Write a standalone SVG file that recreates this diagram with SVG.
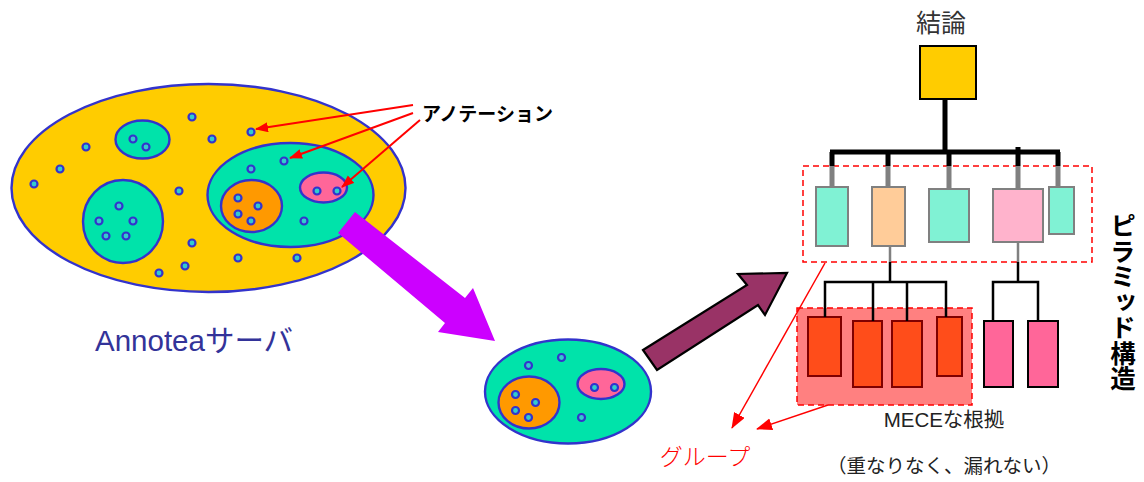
<svg xmlns="http://www.w3.org/2000/svg" width="1144" height="482" viewBox="0 0 1144 482">
<style>
.ol{stroke:#3333CC;stroke-width:2.4}
.yel{fill:#FFCC00}
.grn{fill:#00E3AA}
.org{fill:#FF9900}
.pnk{fill:#FF6699}
.dot{fill:#33CCCC;stroke:#3333CC;stroke-width:2.2}
.jp{font-family:"Noto Sans CJK JP","Liberation Sans",sans-serif}
.box{stroke:#808080;stroke-width:2}
.rbox{fill:#FF4D1A;stroke:#800000;stroke-width:2}
.pbox{fill:#FF6699;stroke:#000;stroke-width:2}
.thick{stroke:#000;stroke-width:5;fill:none}
.grey{stroke:#808080;stroke-width:5;fill:none}
.thin{stroke:#000;stroke-width:2.5;fill:none}
.thing{stroke:#808080;stroke-width:2.5;fill:none}
.ra{stroke:#FF0000;stroke-width:2;fill:none;marker-end:url(#ah)}
.rb{stroke:#FF0000;stroke-width:1.5;fill:none;marker-end:url(#ah2)}
</style>
<defs>
<marker id="ah" markerUnits="userSpaceOnUse" markerWidth="14" markerHeight="12" refX="12" refY="5" orient="auto">
<path d="M0,0 L13,5 L0,10 Z" fill="#FF0000"/>
</marker>
<marker id="ah2" markerUnits="userSpaceOnUse" markerWidth="16" markerHeight="14" refX="15" refY="6" orient="auto">
<path d="M0,0 L16,6 L0,12 Z" fill="#FF0000"/>
</marker>
<g id="group">
<ellipse cx="290.5" cy="195" rx="83" ry="52" class="grn ol"/>
<ellipse cx="251.5" cy="206" rx="30.5" ry="26" class="org ol"/>
<ellipse cx="323.5" cy="187.5" rx="23.5" ry="15" class="pnk ol"/>
<circle cx="251" cy="169" r="3.5" class="dot"/>
<circle cx="284" cy="161" r="3.5" class="dot"/>
<circle cx="304" cy="221" r="3.5" class="dot"/>
<circle cx="238" cy="198" r="3.5" class="dot"/>
<circle cx="258" cy="206" r="3.5" class="dot"/>
<circle cx="238" cy="214" r="3.5" class="dot"/>
<circle cx="251" cy="221" r="3.5" class="dot"/>
<circle cx="317" cy="191" r="3.5" class="dot"/>
<circle cx="337" cy="191" r="3.5" class="dot"/>
</g>
</defs>

<g id="annotea-server">
<ellipse cx="208.5" cy="188" rx="197" ry="104" class="yel ol"/>
<ellipse cx="142.5" cy="139.5" rx="27" ry="19" class="grn ol"/>
<circle cx="133" cy="139" r="3.5" class="dot"/>
<circle cx="146" cy="147" r="3.5" class="dot"/>
<ellipse cx="123" cy="221.5" rx="40" ry="41.5" class="grn ol"/>
<circle cx="119" cy="206" r="3.5" class="dot"/>
<circle cx="99" cy="221" r="3.5" class="dot"/>
<circle cx="133" cy="221" r="3.5" class="dot"/>
<circle cx="106" cy="236" r="3.5" class="dot"/>
<circle cx="126" cy="236" r="3.5" class="dot"/>
<circle cx="192" cy="117" r="3.5" class="dot"/>
<circle cx="212" cy="139" r="3.5" class="dot"/>
<circle cx="251" cy="132" r="3.5" class="dot"/>
<circle cx="86" cy="147" r="3.5" class="dot"/>
<circle cx="60" cy="169" r="3.5" class="dot"/>
<circle cx="34" cy="184" r="3.5" class="dot"/>
<circle cx="179" cy="191" r="3.5" class="dot"/>
<circle cx="192" cy="243" r="3.5" class="dot"/>
<circle cx="185" cy="266" r="3.5" class="dot"/>
<circle cx="159" cy="273" r="3.5" class="dot"/>
<circle cx="238" cy="258" r="3.5" class="dot"/>
<circle cx="297" cy="258" r="3.5" class="dot"/>
<use href="#group"/>
<text x="95" y="351" font-family="Liberation Sans, Noto Sans CJK JP, sans-serif" font-size="29.5" fill="#333399">Annoteaサーバ</text>
</g>

<g id="extracted-group">
<use href="#group" transform="translate(277.5,196.5)"/>
</g>

<g id="annotation-label">
<text x="422" y="121" class="jp" font-size="19" font-weight="bold" fill="#000">アノテーション</text>
</g>

<g id="conclusion">
<text x="941" y="32" class="jp" font-size="25" fill="#333" text-anchor="middle">結論</text>
<rect x="920" y="46" width="56" height="53" fill="#FFCC00" stroke="#000" stroke-width="2"/>
</g>

<g id="level1">
<rect x="816" y="187" width="32" height="59" fill="#80F2D4" class="box"/>
<rect x="872" y="187" width="33" height="59" fill="#FFCC99" class="box"/>
<rect x="929" y="189" width="40" height="53" fill="#80F2D4" class="box"/>
<rect x="993" y="189" width="50" height="53" fill="#FFB3CC" class="box"/>
<rect x="1049" y="187" width="25" height="47" fill="#80F2D4" class="box"/>
<rect x="803" y="166" width="289" height="96" fill="none" stroke="#FF0000" stroke-width="1.5" stroke-dasharray="6,4"/>
</g>

<g id="mece-group">
<rect x="797" y="308" width="175" height="97" fill="#FF8080" stroke="#FF0000" stroke-width="1.5" stroke-dasharray="6,4"/>
<rect x="808" y="317" width="33" height="59" class="rbox"/>
<rect x="853" y="321" width="29" height="66" class="rbox"/>
<rect x="892" y="321" width="30" height="66" class="rbox"/>
<rect x="937" y="317" width="25" height="59" class="rbox"/>
</g>

<g id="pink-pair">
<rect x="984" y="321" width="29" height="66" class="pbox"/>
<rect x="1028" y="321" width="30" height="66" class="pbox"/>
</g>

<g id="labels">
<text x="944" y="427" font-size="20.5" fill="#222" text-anchor="middle" font-family="Liberation Sans, Noto Sans CJK JP, sans-serif">MECEな根拠</text>
<text x="944" y="473" class="jp" font-size="19.5" fill="#222" text-anchor="middle">（重なりなく、漏れない）</text>
<text x="705" y="465" class="jp" font-size="23" fill="#FF0000" font-weight="300" text-anchor="middle">グループ</text>
<text x="1123" y="213" class="jp" font-size="25.5" font-weight="bold" fill="#000" writing-mode="vertical-rl">ピラミッド構造</text>
</g>

<g id="connectors">
<polygon points="355,212 465,298 473,288 495,341 438,332 445,323 338,233" fill="#CC00FF"/>
<polygon points="643,350 747,285 738,274 787,273 765,315 758,305 657,370" fill="#993366" stroke="#000" stroke-width="2.2" stroke-linejoin="miter"/>
<line x1="413" y1="105" x2="256" y2="129" class="ra"/>
<line x1="413" y1="113" x2="290" y2="158" class="ra"/>
<line x1="420" y1="120" x2="342" y2="187" class="ra"/>
<line x1="825" y1="263" x2="732" y2="428" class="rb"/>
<line x1="828" y1="405" x2="757" y2="429" class="rb"/>
<path d="M945,99 V152 M830,152 H1060" class="thick"/>
<path d="M832,152 V166 M888,152 V166 M949,152 V166 M1018,147 V166 M1058,152 V166" class="thick"/>
<path d="M832,166 V187 M888,166 V187 M949,166 V189 M1018,166 V189 M1058,166 V187" class="grey"/>
<path d="M890,246 V262 M1018,242 V262" class="thing"/>
<path d="M890,262 V282 M825,317 V282 H946 V317 M873,282 V321 M907,282 V321" class="thin"/>
<path d="M1018,262 V282 M993,321 V282 H1038 V321" class="thin"/>
</g>
</svg>
